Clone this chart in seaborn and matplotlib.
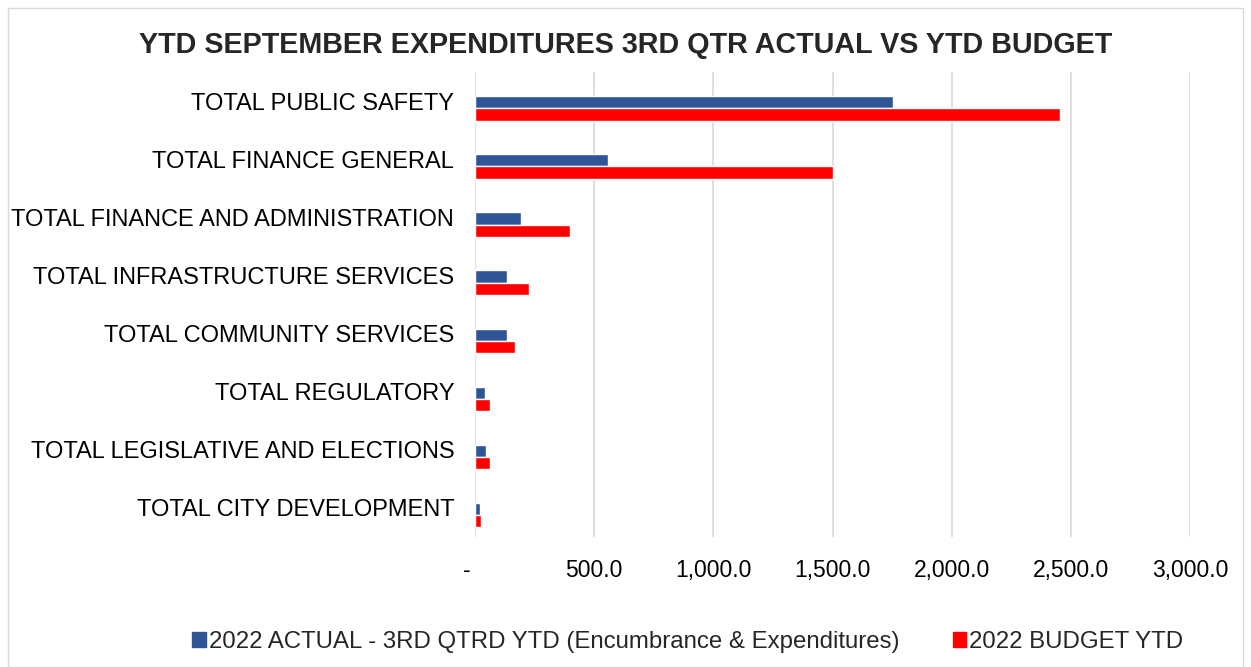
import numpy as np
import pandas as pd
import matplotlib.pyplot as plt
import seaborn as sns
from matplotlib.patches import Rectangle
from matplotlib.ticker import FuncFormatter
from matplotlib.transforms import ScaledTranslation

categories = [
    'TOTAL PUBLIC SAFETY',
    'TOTAL FINANCE GENERAL',
    'TOTAL FINANCE AND ADMINISTRATION',
    'TOTAL INFRASTRUCTURE SERVICES',
    'TOTAL COMMUNITY SERVICES',
    'TOTAL REGULATORY',
    'TOTAL LEGISLATIVE AND ELECTIONS',
    'TOTAL CITY DEVELOPMENT',
]
actual = [1752, 559, 192, 136, 133, 41, 46, 20]
budget = [2454, 1500, 400, 226, 168, 63, 61, 24]
series = ['2022 ACTUAL - 3RD QTRD YTD (Encumbrance & Expenditures)', '2022 BUDGET YTD']
colors = ['#2F5597', '#FF0000']

df = pd.DataFrame({
    'Category': categories * 2,
    'Value': actual + budget,
    'Series': [series[0]] * len(categories) + [series[1]] * len(categories),
})

sns.set_style('white')
plt.rcParams['font.family'] = ['Liberation Sans', 'DejaVu Sans']

fig = plt.figure(figsize=(12.51, 6.67), dpi=100)
ax = fig.add_axes([475 / 1251, 1 - 537 / 667, (1190 - 475) / 1251, (537 - 72) / 667])

sns.barplot(data=df, x='Value', y='Category', hue='Series', order=categories,
            hue_order=series, palette=colors, width=0.42, saturation=1,
            orient='h', ax=ax, legend=False)

# bars sit a little below the category labels, like the original
shift = 0.125
ax.set_ylim(len(categories) - 0.5 - shift, -0.5 - shift)
ax.set_yticks(np.arange(len(categories)) - shift)
ax.set_yticklabels(categories)

ax.set_xlim(0, 3000)
ax.set_xticks(np.arange(0, 3001, 500))
ax.xaxis.set_major_formatter(FuncFormatter(lambda v, p: '-' if v == 0 else f'{v:,.1f}'))
ax.grid(axis='x', color='#D9D9D9', linewidth=1.2)
ax.set_axisbelow(True)
for s in ax.spines.values():
    s.set_visible(False)
ax.set_xlabel('')
ax.set_ylabel('')
ax.tick_params(axis='x', labelsize=16.5, colors='#000000', pad=16, length=0)
ax.tick_params(axis='y', labelsize=17, colors='#000000', pad=15, length=0)

fig.canvas.draw()
first = ax.get_xticklabels()[0]
first.set_transform(first.get_transform() + ScaledTranslation(-8 / 100, 0, fig.dpi_scale_trans))

fig.text(0.5, 1 - 45 / 667, 'YTD SEPTEMBER EXPENDITURES 3RD QTR ACTUAL VS YTD BUDGET',
         ha='center', va='center', fontsize=20.7, fontweight='bold')

handles = [Rectangle((0, 0), 1, 1, color=c) for c in colors]
fig.legend(handles, series, loc='center', bbox_to_anchor=(0.55, 1 - 642 / 667),
           ncol=2, frameon=False, fontsize=17.3, handlelength=0.55, handleheight=0.55,
           handletextpad=0.15, columnspacing=2.2)

fig.patches.append(Rectangle((8 / 1251, 0), 1 - 16 / 1251, 1 - 8 / 667,
                             transform=fig.transFigure, fill=False,
                             edgecolor='#D9D9D9', linewidth=1))

fig.savefig('out.png', dpi=100)
